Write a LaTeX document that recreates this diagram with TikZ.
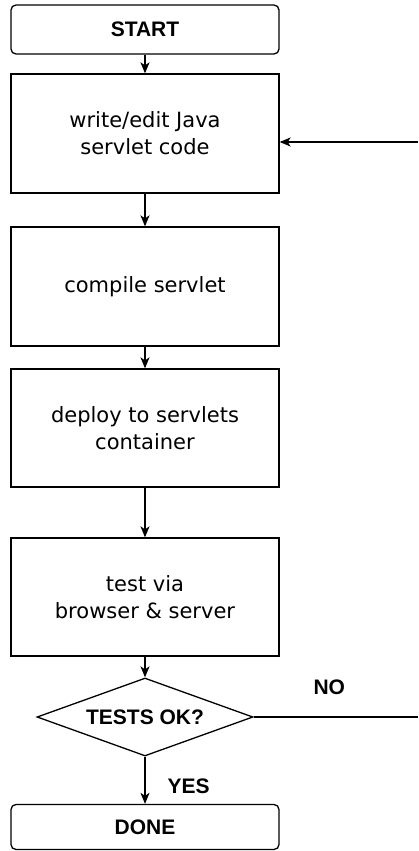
\documentclass[tikz,border=0pt]{standalone}
\usepackage{fontspec}
\setmainfont{DejaVu Sans}
\newfontfamily\capsfont{Liberation Sans}
\usetikzlibrary{positioning, shapes.geometric, arrows.meta, calc}

\begin{document}
\begin{tikzpicture}[x=1pt, y=-1pt, line width=1.3pt]
          \tikzset{ term/.style ={draw, rounded corners=5pt, minimum width=268pt, font=\capsfont\bfseries\fontsize{21}{25}\selectfont} }
          \tikzset{ act/.style  ={draw, rounded corners=0pt, minimum width=268pt, minimum height=119pt, align=center, font=\fontsize{21}{27}\selectfont} }
          \tikzset{ dec/.style  ={draw, diamond, aspect=2.77, inner sep=0pt, minimum width=216pt, minimum height=78pt, font=\capsfont\bfseries\fontsize{21}{25}\selectfont} }
          \tikzset{ lbl/.style  ={inner sep=0pt, font=\capsfont\bfseries\fontsize{21}{25}\selectfont} }
          \tikzset{ flow/.style ={->, >={Stealth[length=11pt, width=9pt, inset=3pt]}} }

          \useasboundingbox (0,0) rectangle (418,851);

          \node[term, minimum height=49pt] (start)   at (145, 29.5) {START};
          \node[act ] (edit)    at (145, 133.5) {write/edit Java\\servlet code};
          \node[act ] (compile) at (145, 286.5) {compile servlet};
          \node[act, minimum height=118pt] (deploy)  at (145, 428.0) {deploy to servlets\\container};
          \node[act, minimum height=118pt] (test)    at (145, 597.0) {test via\\browser \& server};
          \node[dec ] (ok)      at (145, 717.0) {TESTS OK?};
          \node[term, minimum height=45pt] (done)    at (145, 827.0) {DONE};

          \coordinate (no_end) at (418, 717);
          \coordinate (back)   at (418, 142);

          \draw[flow] (start)   -- (edit);
          \draw[flow] (edit)    -- (compile);
          \draw[flow] (compile) -- (deploy);
          \draw[flow] (deploy)  -- (test);
          \draw[flow] (test)    -- (ok);
          \draw[flow] (ok)      -- (done) node [lbl, pos=0.62, right=22pt] {YES};
          \draw       (ok.east) -- (no_end) node [lbl, pos=0.46, above=22pt] {NO};
      %   loop back to the editor
          \draw[flow] (back)    -- (back -| edit.east);
      \end{tikzpicture}
\end{document}
